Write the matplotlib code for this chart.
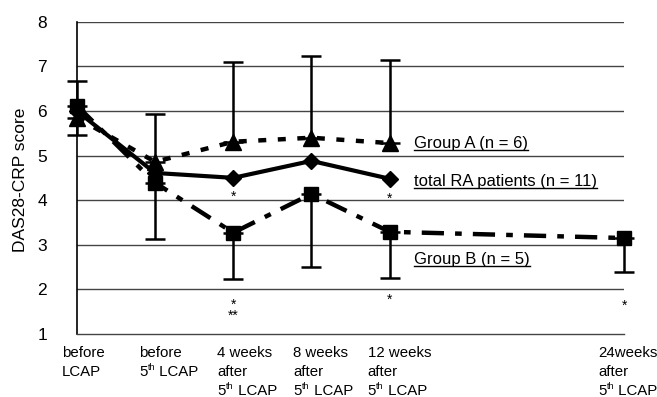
import matplotlib
matplotlib.use("Agg")
import matplotlib.pyplot as plt
from matplotlib.lines import Line2D

plt.rcParams['font.family'] = ['Liberation Sans', 'DejaVu Sans']

# ---- data ----
x_pos = [0, 1, 2, 3, 4, 7]
# each tick label: list of lines; "5th" marks a line with superscript ordinal
tick_lines = [["before", "LCAP"],
              ["before", "5th LCAP"],
              ["4 weeks", "after", "5th LCAP"],
              ["8 weeks", "after", "5th LCAP"],
              ["12 weeks", "after", "5th LCAP"],
              ["24weeks", "after", "5th LCAP"]]

total_x = [0, 1, 2, 3, 4]
total_y = [6.0, 4.61, 4.50, 4.88, 4.48]

groupA_x = [0, 1, 2, 3, 4]
groupA_y = [5.85, 4.86, 5.31, 5.40, 5.28]
groupA_upper = [6.68, 5.94, 7.10, 7.24, 7.15]

groupB_x = [0, 1, 2, 3, 4, 7]
groupB_y = [6.12, 4.39, 3.27, 4.14, 3.29, 3.15]
groupB_lower = [5.47, 3.13, 2.23, 2.50, 2.26, 2.39]

# asterisks: (x, y_center, text)
star_x = [2, 4, 2, 2, 4, 7]
star_y = [4.16, 4.12, 1.74, 1.49, 1.85, 1.70]
star_txt = ["*", "*", "*", "**", "*", "*"]

label_texts = ["Group A (n = 6)", "total RA patients (n = 11)", "Group B (n = 5)"]
label_y = [5.28, 4.41, 2.66]

# ---- figure ----
fig = plt.figure(figsize=(6.57, 3.97), dpi=100)
ax = fig.add_axes([0.117, 0.159, 0.833, 0.786])
ax.set_xlim(0, 7)
ax.set_ylim(1, 8)

for yv in range(2, 9):
    ax.axhline(yv, color='#444444', lw=1.0, zorder=1)

for s in ['top', 'right']:
    ax.spines[s].set_visible(False)
ax.spines['left'].set_linewidth(1.2)
ax.spines['bottom'].set_linewidth(1.0)
ax.spines['bottom'].set_color('#444444')

# error bars
for xv, yv, up in zip(groupA_x, groupA_y, groupA_upper):
    _, caps, bars = ax.errorbar([xv], [yv], yerr=[[0], [up - yv]], fmt='none', ecolor='black',
                                elinewidth=1.8, capsize=7, capthick=1.8, zorder=2)
    for a in list(caps) + list(bars):
        a.set_clip_on(False)
for xv, yv, lo in zip(groupB_x, groupB_y, groupB_lower):
    _, caps, bars = ax.errorbar([xv], [yv], yerr=[[yv - lo], [0]], fmt='none', ecolor='black',
                                elinewidth=1.8, capsize=7, capthick=1.8, zorder=2)
    for a in list(caps) + list(bars):
        a.set_clip_on(False)

# lines
ax.plot(groupB_x, groupB_y, color='black', lw=3.2, marker='s', ms=10,
        dashes=(5, 2.5, 1.5, 2.5), zorder=3, clip_on=False)
ax.plot(groupA_x, groupA_y, color='black', lw=3.2, marker='^', ms=11,
        dashes=(1.8, 2.6), zorder=3, clip_on=False)
ax.plot(total_x, total_y, color='black', lw=3.0, marker='D', ms=8,
        linestyle='-', zorder=4, clip_on=False)

# asterisks
for xv, yv, t in zip(star_x, star_y, star_txt):
    ax.text(xv, yv - 0.17, t, ha='center', va='baseline', fontsize=10, clip_on=False)

# series labels (underlined)
label_artists = []
for t, yv in zip(label_texts, label_y):
    label_artists.append(ax.text(4.31, yv, t, ha='left', va='center', fontsize=12))

# y ticks
ax.set_yticks(range(1, 9))
ax.tick_params(axis='y', length=0, pad=25, labelsize=12.5)
for lab in ax.get_yticklabels():
    lab.set_horizontalalignment('center')

# x tick labels drawn as text (with superscript ordinal)
ax.set_xticks(x_pos)
ax.set_xticklabels([])
ax.tick_params(axis='x', length=0)
px_offsets = [-15, -16, -16, -18, -22, -26]
baseline_px = [23, 42, 61]
FS = 10.8
for xv, lines, off in zip(x_pos, tick_lines, px_offsets):
    for li, line in enumerate(lines):
        dx = off * 0.72
        dy = -baseline_px[li] * 0.72
        if line.startswith("5th"):
            t5 = ax.annotate("5", xy=(xv, 0), xycoords=('data', 'axes fraction'),
                             xytext=(dx, dy), textcoords='offset points',
                             ha='left', va='baseline', fontsize=FS, annotation_clip=False)
            tth = ax.annotate("th", xy=(1, 0), xycoords=(t5, 'axes fraction'),
                              xytext=(0.3, dy + 4.3), textcoords='offset points',
                              ha='left', va='baseline', fontsize=FS * 0.6,
                              annotation_clip=False)
            ax.annotate(line[3:], xy=(1, 0), xycoords=(tth, t5), ha='left', va='bottom',
                        fontsize=FS, annotation_clip=False)
        else:
            ax.annotate(line, xy=(xv, 0), xycoords=('data', 'axes fraction'),
                        xytext=(dx, dy), textcoords='offset points',
                        ha='left', va='baseline', fontsize=FS, annotation_clip=False)

ax.set_ylabel("DAS28-CRP score", fontsize=12.5)
ax.yaxis.set_label_coords(-0.09, 0.494)

# underline the series labels
fig.canvas.draw()
renderer = fig.canvas.get_renderer()
inv = fig.transFigure.inverted()
for ta in label_artists:
    bb = ta.get_window_extent(renderer)
    (x0, y0) = inv.transform((bb.x0, bb.y0 + 1))
    (x1, _) = inv.transform((bb.x1, bb.y0 + 1))
    fig.add_artist(Line2D([x0, x1], [y0, y0], transform=fig.transFigure,
                          color='black', lw=1.0))

fig.savefig("out.png", dpi=100)
